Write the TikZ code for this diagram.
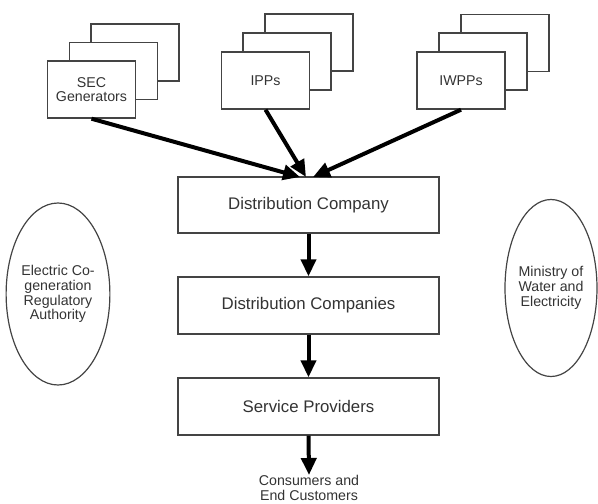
\documentclass[tikz,border=0pt]{standalone}
\usepackage{fontspec}
\setmainfont{Liberation Sans}
\usetikzlibrary{arrows.meta,shapes.geometric}
\definecolor{txt}{HTML}{333333}
\definecolor{edge}{HTML}{444444}
\begin{document}
\begin{tikzpicture}[x=1pt,y=-1pt,
  smallfont/.style={font=\fontsize{14.2}{14.7}\selectfont, text=txt},
  bigfont/.style={font=\fontsize{16.8}{18}\selectfont, text=txt},
  stackbox/.style={draw=edge, line width=1.4pt, fill=white, minimum width=88pt, minimum height=57pt, inner sep=0pt, align=center, smallfont},
  mainbox/.style={draw=edge, line width=1.4pt, fill=white, minimum width=261pt, minimum height=56pt, inner sep=0pt, bigfont},
  oval/.style={ellipse, draw=edge, line width=1.2pt, inner sep=0pt, align=center, smallfont},
  flow/.style={line width=4pt, draw=black, -{Triangle[length=17pt,width=15pt]}}
]
\useasboundingbox (0,0) rectangle (598,504);

% SEC stack
\node[stackbox] (secc) at (135,52.5) {};
\node[stackbox] (secb) at (113.5,71) {};
\node[stackbox] (sec) at (91.5,89.5) {SEC\\Generators};
% IPPs stack
\node[stackbox] (ippc) at (309,42.5) {};
\node[stackbox] (ippb) at (287,61.5) {};
\node[stackbox] (ipp) at (265.5,80.5) {IPPs};
% IWPPs stack
\node[stackbox] (iwppc) at (505,43) {};
\node[stackbox] (iwppb) at (483,61.5) {};
\node[stackbox] (iwpp) at (461,80.5) {IWPPs};

% main chain
\node[mainbox] (dc) at (308.5,205) {Distribution Company};
\node[mainbox, minimum height=57pt] (dcs) at (308.5,305.5) {Distribution Companies};
\node[mainbox, minimum height=57pt] (sp) at (308.5,406.5) {Service Providers};
\node[smallfont, align=center, inner sep=0pt, anchor=north] (cons) at (309,475) {Consumers and\\End Customers};

% side ovals
\node[oval, minimum width=98pt, minimum height=182pt] (eca) at (58,294) {Electric Co-\\generation\\Regulatory\\Authority};
\node[oval, minimum width=92pt, minimum height=177pt] (mwe) at (551,288) {Ministry of\\Water and\\Electricity};

% arrow end points on the top of the first box
\coordinate (e1) at (300,177);
\coordinate (e2) at (306,177);
\coordinate (e3) at (313,177);

\draw[flow] (sec.south) -- (e1);
\draw[flow] (ipp.south) -- (e2);
\draw[flow] (iwpp.south) -- (e3);
\draw[flow] (dc.south) -- (dcs.north);
\draw[flow] (dcs.south) -- (sp.north);
\draw[flow] (sp.south) -- (cons.north);
\end{tikzpicture}
\end{document}
